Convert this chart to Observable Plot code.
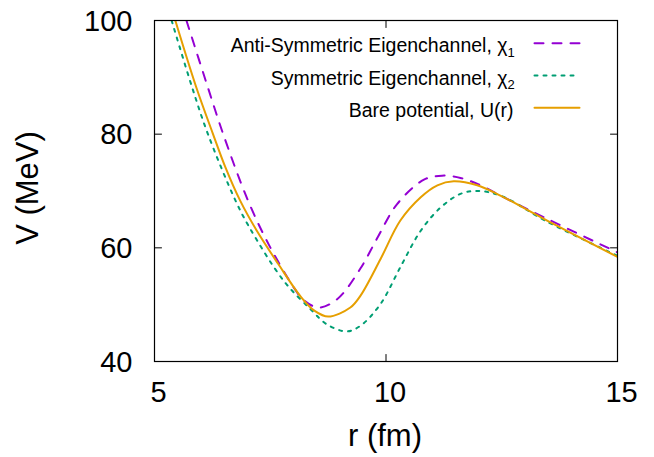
<!DOCTYPE html>
<html><head><meta charset="utf-8">
<script src="https://cdn.jsdelivr.net/npm/d3@7"></script>
<script src="https://cdn.jsdelivr.net/npm/@observablehq/plot@0.6"></script>
<style>body{margin:0;background:#fff}</style>
</head><body><div id="chart"></div>
<script>
// Anti-Symmetric Eigenchannel, chi1 (purple dashed)
const rAnti = [5.69, 6.15, 6.48, 7.01, 7.46, 8.01, 8.22, 8.55, 8.95, 9.45, 9.83, 10.24, 10.82, 11.21, 11.61, 12.04, 12.47, 13.48, 15.0];
const vAnti = [100, 88.3, 80.1, 68.5, 60.7, 53.0, 50.8, 49.5, 51.0, 56.4, 62.0, 67.7, 72.0, 72.7, 72.3, 71.0, 69.2, 65.1, 59.2];
// Symmetric Eigenchannel, chi2 (green dotted)
const rSym = [5.37, 5.81, 6.15, 6.75, 7.05, 7.79, 8.37, 8.73, 9.15, 9.45, 9.88, 10.31, 10.75, 11.18, 11.61, 11.97, 12.47, 13.48, 15.0];
const vSym = [100, 88.3, 80.1, 68.3, 63.6, 54.2, 49.2, 46.5, 45.3, 46.3, 50.1, 56.6, 63.0, 67.1, 69.5, 70.0, 69.2, 64.6, 58.6];
// Bare potential U(r) (orange solid)
const rBare = [5.45, 5.90, 6.26, 6.53, 6.85, 7.21, 7.67, 8.17, 8.46, 8.75, 9.23, 9.45, 9.88, 10.31, 10.75, 11.11, 11.46, 11.97, 12.47, 13.48, 15.0];
const vBare = [100, 88.3, 80.1, 74.2, 68.3, 63.0, 57.2, 51.3, 48.9, 47.9, 49.5, 51.6, 58.0, 64.8, 68.9, 71.0, 71.7, 71.0, 69.2, 64.8, 58.4];

const xTicks = [5, 10, 15];
const yTicks = [40, 60, 80, 100];
const legendLabels = ["Anti-Symmetric Eigenchannel, χ", "Symmetric Eigenchannel, χ", "Bare potential, U(r)"];
const legendSubs = ["1", "2", ""];
const colors = ["#9400d3", "#009e73", "#e69f00"];
const dashes = ["9,9", "3,6", null];
const xLabel = "r (fm)";
const yLabel = "V (MeV)";

const rows = (r, v) => r.map((x, i) => ({r: x, v: v[i]}));
const seriesData = [rows(rAnti, vAnti), rows(rSym, vSym), rows(rBare, vBare)];

const stick = {draw(ctx, l) { ctx.moveTo(0, 0); ctx.lineTo(0, -l); }};
const fmt = d => String(d);

const marks = [];
seriesData.forEach((data, i) => {
  marks.push(Plot.line(data, {x: "r", y: "v", stroke: colors[i], strokeWidth: 2, strokeDasharray: dashes[i], curve: "catmull-rom", clip: true}));
});
marks.push(Plot.frame({stroke: "#000", strokeWidth: 1.2}));
marks.push(Plot.vector(xTicks, {x: d => d, frameAnchor: "bottom", rotate: 0, length: 7, anchor: "start", shape: stick, stroke: "#000", strokeWidth: 1}));
marks.push(Plot.vector(xTicks, {x: d => d, frameAnchor: "top", rotate: 180, length: 7, anchor: "start", shape: stick, stroke: "#000", strokeWidth: 1}));
marks.push(Plot.vector(yTicks, {y: d => d, frameAnchor: "left", rotate: 90, length: 7, anchor: "start", shape: stick, stroke: "#000", strokeWidth: 1}));
marks.push(Plot.vector(yTicks, {y: d => d, frameAnchor: "right", rotate: -90, length: 7, anchor: "start", shape: stick, stroke: "#000", strokeWidth: 1}));
marks.push(Plot.axisX(xTicks, {tickSize: 0, tickPadding: 20, dx: 4, fontSize: 29, tickFormat: fmt, label: null}));
marks.push(Plot.axisY(yTicks, {tickSize: 0, tickPadding: 22, dy: 1, fontSize: 29, tickFormat: fmt, label: null}));
marks.push(Plot.text([xLabel], {frameAnchor: "bottom", text: d => d, dx: -1, dy: 84, lineAnchor: "bottom", fontSize: 31}));
marks.push(Plot.text([yLabel], {frameAnchor: "left", text: d => d, rotate: -90, dx: -126, dy: -3, fontSize: 31, textAnchor: "middle", lineAnchor: "middle"}));

const rowLine = [22.7, 55, 87.3];
const rowBase = [31.7, 64, 96.3];
legendLabels.forEach((lab, i) => {
  marks.push(Plot.text([lab], {frameAnchor: "top-right", text: d => d, dx: legendSubs[i] ? -110 : -104, dy: rowBase[i], textAnchor: "end", lineAnchor: "bottom", fontSize: 19.5}));
  if (legendSubs[i]) {
    marks.push(Plot.text([legendSubs[i]], {frameAnchor: "top-right", text: d => d, dx: -110, dy: rowBase[i] + 4.5, textAnchor: "start", lineAnchor: "bottom", fontSize: 13}));
  }
  marks.push(Plot.vector([lab], {frameAnchor: "top-right", dx: -83, dy: rowLine[i], rotate: 90, length: 45, anchor: "start", shape: stick, stroke: colors[i], strokeWidth: 2, strokeDasharray: dashes[i]}));
});

const chart = Plot.plot({
  width: 654, height: 457,
  marginLeft: 154, marginRight: 37, marginTop: 20, marginBottom: 96,
  x: {domain: [5, 15]},
  y: {domain: [40, 100]},
  style: {fontFamily: "'Liberation Sans', Arial, sans-serif", fontSize: "27px", color: "#000", background: "#fff"},
  marks
});
document.getElementById("chart").appendChild(chart);
</script>
</body></html>
